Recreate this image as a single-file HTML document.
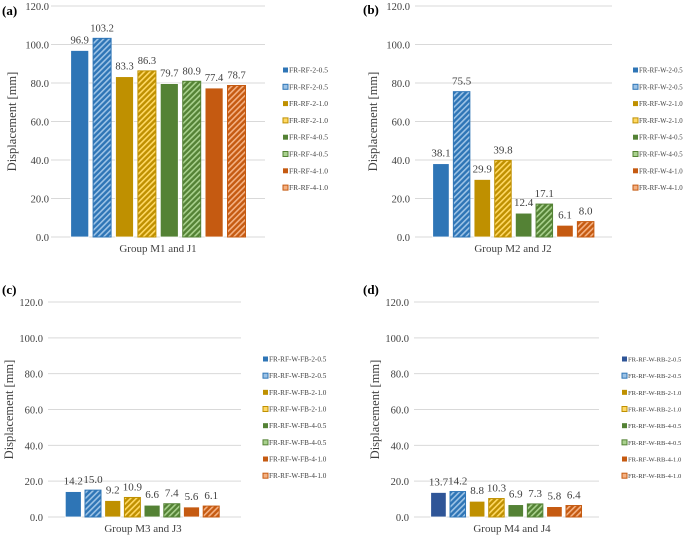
<!DOCTYPE html>
<html><head><meta charset="utf-8"><style>
html,body{margin:0;padding:0;background:#fff;}
svg{display:block;}
svg text{font-family:"Liberation Serif","Times New Roman",serif;}
</style></head><body>
<svg id="fig" width="685" height="536" viewBox="0 0 685 536" xmlns="http://www.w3.org/2000/svg" font-family="Liberation Serif, serif">
<defs id="defs"></defs>
</svg>
<script>
const NS="http://www.w3.org/2000/svg";
const valuesA=[96.9,103.2,83.3,86.3,79.7,80.9,77.4,78.7];
const valuesB=[38.1,75.5,29.9,39.8,12.4,17.1,6.1,8.0];
const valuesC=[14.2,15.0,9.2,10.9,6.6,7.4,5.6,6.1];
const valuesD=[13.7,14.2,8.8,10.3,6.9,7.3,5.8,6.4];
const seriesA=["FR-RF-2-0.5","FR-RF-2-0.5","FR-RF-2-1.0","FR-RF-2-1.0","FR-RF-4-0.5","FR-RF-4-0.5","FR-RF-4-1.0","FR-RF-4-1.0"];
const seriesB=["FR-RF-W-2-0.5","FR-RF-W-2-0.5","FR-RF-W-2-1.0","FR-RF-W-2-1.0","FR-RF-W-4-0.5","FR-RF-W-4-0.5","FR-RF-W-4-1.0","FR-RF-W-4-1.0"];
const seriesC=["FR-RF-W-FB-2-0.5","FR-RF-W-FB-2-0.5","FR-RF-W-FB-2-1.0","FR-RF-W-FB-2-1.0","FR-RF-W-FB-4-0.5","FR-RF-W-FB-4-0.5","FR-RF-W-FB-4-1.0","FR-RF-W-FB-4-1.0"];
const seriesD=["FR-RF-W-RB-2-0.5","FR-RF-W-RB-2-0.5","FR-RF-W-RB-2-1.0","FR-RF-W-RB-2-1.0","FR-RF-W-RB-4-0.5","FR-RF-W-RB-4-0.5","FR-RF-W-RB-4-1.0","FR-RF-W-RB-4-1.0"];
const yTicks=[0,20,40,60,80,100,120];
const groupLabels=["Group M1 and J1","Group M2 and J2","Group M3 and J3","Group M4 and J4"];
const panelLetters=["(a)","(b)","(c)","(d)"];

const solid=["#2e75b6","#bf9000","#548235","#c55a11"];
const light=["#9dc3e6","#ffd966","#a9d18e","#f4b183"];
const svg=document.getElementById('fig');
const defs=document.getElementById('defs');
const FF='Liberation Serif, serif';
function mk(tag,attrs,parent){const e=document.createElementNS(NS,tag);for(const k in attrs)e.setAttribute(k,attrs[k]);if(tag==='text')e.setAttribute('font-family',FF);(parent||svg).appendChild(e);return e;}
function pattern(id,base,stripe){
  const p=mk('pattern',{id:id,width:4,height:4,patternUnits:'userSpaceOnUse',patternTransform:'rotate(45)'},defs);
  mk('rect',{width:4,height:4,fill:base},p);
  mk('rect',{x:0,y:0,width:1.6,height:4,fill:stripe},p);
}
for(let i=0;i<4;i++){pattern('h'+i,solid[i],light[i]);}

const panels=[
 {vals:valuesA,ser:seriesA,gx0:51,gx1:265,y120:6,y0:237,bx:70.7,bw:18,pitch:22.4,tickR:49,titleX:13,letX:2,letY:15,lx:283,ly0:70,lstep:16.8,gl:158,gly:252,fs:10.5,lfs:7.5},
 {vals:valuesB,ser:seriesB,gx0:415,gx1:612,y120:6,y0:237,bx:432.7,bw:16.5,pitch:20.67,tickR:410,titleX:374,letX:363,letY:14,lx:633,ly0:70,lstep:16.8,gl:513,gly:252,fs:11,lfs:6.8},
 {vals:valuesC,ser:seriesC,gx0:48,gx1:241,y120:302,y0:517,bx:65.3,bw:16,pitch:19.7,tickR:43,titleX:10,letX:2,letY:294,lx:263,ly0:359,lstep:16.67,gl:143,gly:532,fs:11,lfs:7.2},
 {vals:valuesD,ser:seriesD,gx0:414,gx1:599,y120:302,y0:517,bx:430.7,bw:15.5,pitch:19.33,tickR:409,titleX:376,letX:363,letY:294,lx:622,ly0:359,lstep:16.67,gl:512,gly:532,fs:11,lfs:6.6}
];

panels.forEach((P,pi)=>{
  const g=mk('g',{});
  
  
  const yS=v=>P.y0-(v/120)*(P.y0-P.y120);
  yTicks.forEach(t=>{
    const l=mk('line',{x1:P.gx0,x2:P.gx1,y1:yS(t),y2:yS(t),stroke:'#d9d9d9','stroke-width':1},g);
    
    
    const tx=mk('text',{x:P.tickR,y:yS(t)+4,'text-anchor':'end','font-size':10.5,fill:'#404040'},g);
    tx.textContent=t.toFixed(1);
    
    
  });
  P.vals.forEach((v,i)=>{
    const c=Math.floor(i/2),hatched=i%2===1;
    let fill=hatched?'url(#h'+c+')':solid[c];
    if(pi===3&&i===0)fill='#2f5597';
    const x=P.bx+i*P.pitch;
    const r=mk('rect',{x:x,y:yS(v),width:P.bw,height:P.y0-yS(v),fill:fill,stroke:hatched?solid[c]:'#fff','stroke-width':hatched?1:0.8},g);
    
    
    const lb=mk('text',{x:x+P.bw/2,y:yS(v)-7,'text-anchor':'middle','font-size':P.fs,fill:'#404040'},g);
    lb.textContent=v.toFixed(1);
    
    
  });
  const cy=(P.y0+P.y120)/2;
  const yt=mk('text',{x:P.titleX,y:cy,'text-anchor':'middle','font-size':12.5,fill:'#404040',transform:'rotate(-90 '+P.titleX+' '+cy+')','dominant-baseline':'middle'},g);
  yt.textContent='Displacement  [mm]';
  
  
  const gl=mk('text',{x:P.gl,y:P.gly,'text-anchor':'middle','font-size':11,fill:'#404040'},g);
  gl.textContent=groupLabels[pi];
  
  
  const lt=mk('text',{x:P.letX,y:P.letY,'font-size':13,'font-weight':'bold',fill:'#000'},g);
  lt.textContent=panelLetters[pi];
  
  
  P.ser.forEach((s,i)=>{
    const c=Math.floor(i/2),hatched=i%2===1;
    const y=P.ly0+i*P.lstep;
    const eg=mk('g',{},g);
    
    
    let fill=hatched?light[c]:solid[c];
    if(pi===3&&i===0)fill='#2f5597';
    mk('rect',{x:P.lx,y:y-2.5,width:5,height:5,fill:fill,stroke:hatched?solid[c]:'none','stroke-width':1},eg);
    const t=mk('text',{x:P.lx+6,y:y+2.5,'font-size':P.lfs,fill:'#404040'},eg);
    t.textContent=s;
  });
});
</script>
</body></html>
